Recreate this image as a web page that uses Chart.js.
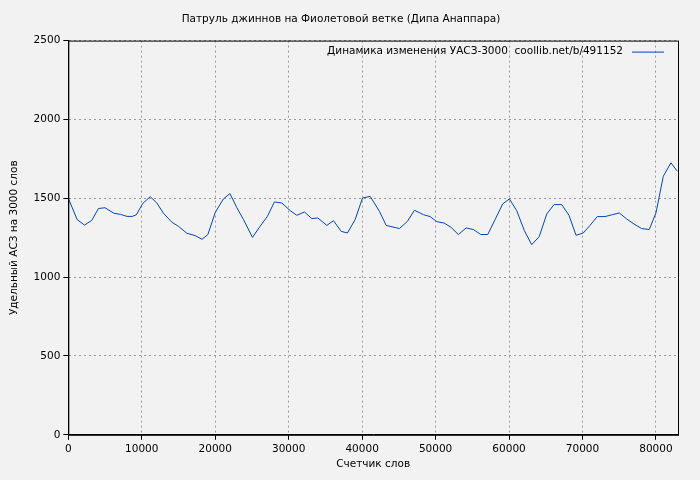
<!DOCTYPE html>
<html><head><meta charset="utf-8">
<script src="https://cdn.jsdelivr.net/npm/chart.js@4"></script>
<style>html,body{margin:0;background:#f2f2f2}#w{width:700px;height:480px}</style>
</head><body><div id="w"><canvas id="c"></canvas></div>
<script>
const words=[0,1200,2200,3200,4100,5000,6200,7100,8000,8700,9250,10150,11150,12050,12950,14100,15000,16150,17280,18200,19000,20000,21100,22000,22950,23850,25070,26100,27100,28060,29070,30200,31100,32150,33150,33970,35200,36100,37150,38000,39050,40050,41090,42360,43270,45080,46170,47120,48350,49250,50160,51160,52100,53100,54150,55140,56150,57100,58100,59130,60040,61040,62080,63080,64110,65130,66120,67170,68160,69120,70100,71020,72010,73060,74060,75000,76000,77000,78040,79090,80000,81000,82040,82900];
const uasz=[1500,1365,1330,1360,1435,1440,1405,1398,1385,1385,1395,1468,1510,1470,1405,1348,1322,1278,1263,1240,1270,1410,1495,1530,1440,1365,1252,1322,1385,1477,1470,1422,1392,1413,1371,1375,1328,1358,1290,1280,1365,1502,1512,1417,1328,1308,1354,1424,1396,1384,1352,1343,1316,1270,1312,1302,1270,1270,1365,1464,1496,1422,1295,1206,1257,1400,1460,1460,1392,1265,1280,1328,1384,1384,1396,1407,1369,1337,1308,1302,1407,1640,1725,1672];
const xTicks=[0,10000,20000,30000,40000,50000,60000,70000,80000];
const yTicks=[0,500,1000,1500,2000,2500];
const seriesLabel='Динамика изменения УАСЗ-3000  coollib.net/b/491152';
const F='"DejaVu Sans"';
const FS=10.5;
const frame={id:'frame',afterDraw(ch){const {ctx,chartArea:a}=ch;ctx.save();ctx.strokeStyle='#000';ctx.lineWidth=1;ctx.strokeRect(a.left+.5,a.top+.5,a.right-a.left,a.bottom-a.top);
ctx.font=FS+'px '+F;ctx.fillStyle='#000';ctx.textAlign='right';ctx.textBaseline='middle';const y=a.top+11;ctx.fillText(seriesLabel,a.right-55,y);
ctx.strokeStyle='#0047bb';ctx.beginPath();ctx.moveTo(a.right-46,y+.5);ctx.lineTo(a.right-14,y+.5);ctx.stroke();ctx.restore();}};
const xScale={type:'linear',min:0,max:83000,
  afterBuildTicks:s=>{s.ticks=xTicks.map(v=>({value:v}));},
  ticks:{color:'#000',font:{family:F,size:FS},maxRotation:0,autoSkip:false,callback:v=>String(v)},
  grid:{color:'#999',tickLength:5,tickColor:'#000'},border:{dash:[2,3],color:'#000'},
  title:{display:true,text:'Счетчик слов',color:'#000',font:{family:F,size:FS},padding:{top:0}}};
const yScale={type:'linear',min:0,max:2500,
  afterBuildTicks:s=>{s.ticks=yTicks.map(v=>({value:v}));},
  ticks:{color:'#000',font:{family:F,size:FS},callback:v=>String(v)},
  grid:{color:'#999',tickLength:5,tickColor:'#000'},border:{dash:[2,3],color:'#000'},
  title:{display:true,text:'Удельный АСЗ на 3000 слов',color:'#000',font:{family:F,size:FS},padding:{bottom:10}}};
new Chart(document.getElementById('c'),{type:'line',
  data:{datasets:[{label:seriesLabel,data:words.map((x,i)=>({x,y:uasz[i]})),borderColor:'#0047bb',borderWidth:1,pointRadius:0,tension:0}]},
  options:{responsive:true,maintainAspectRatio:false,animation:false,
    layout:{padding:{left:4,right:22,top:0,bottom:5}},
    plugins:{legend:{display:false},tooltip:{enabled:false},
      title:{display:true,text:'Патруль джиннов на Фиолетовой ветке (Дипа Анаппара)',color:'#000',font:{family:F,size:FS,weight:'normal'},padding:{top:13,bottom:15}}},
    scales:{x:xScale,y:yScale}},
  plugins:[frame]});
</script></body></html>
